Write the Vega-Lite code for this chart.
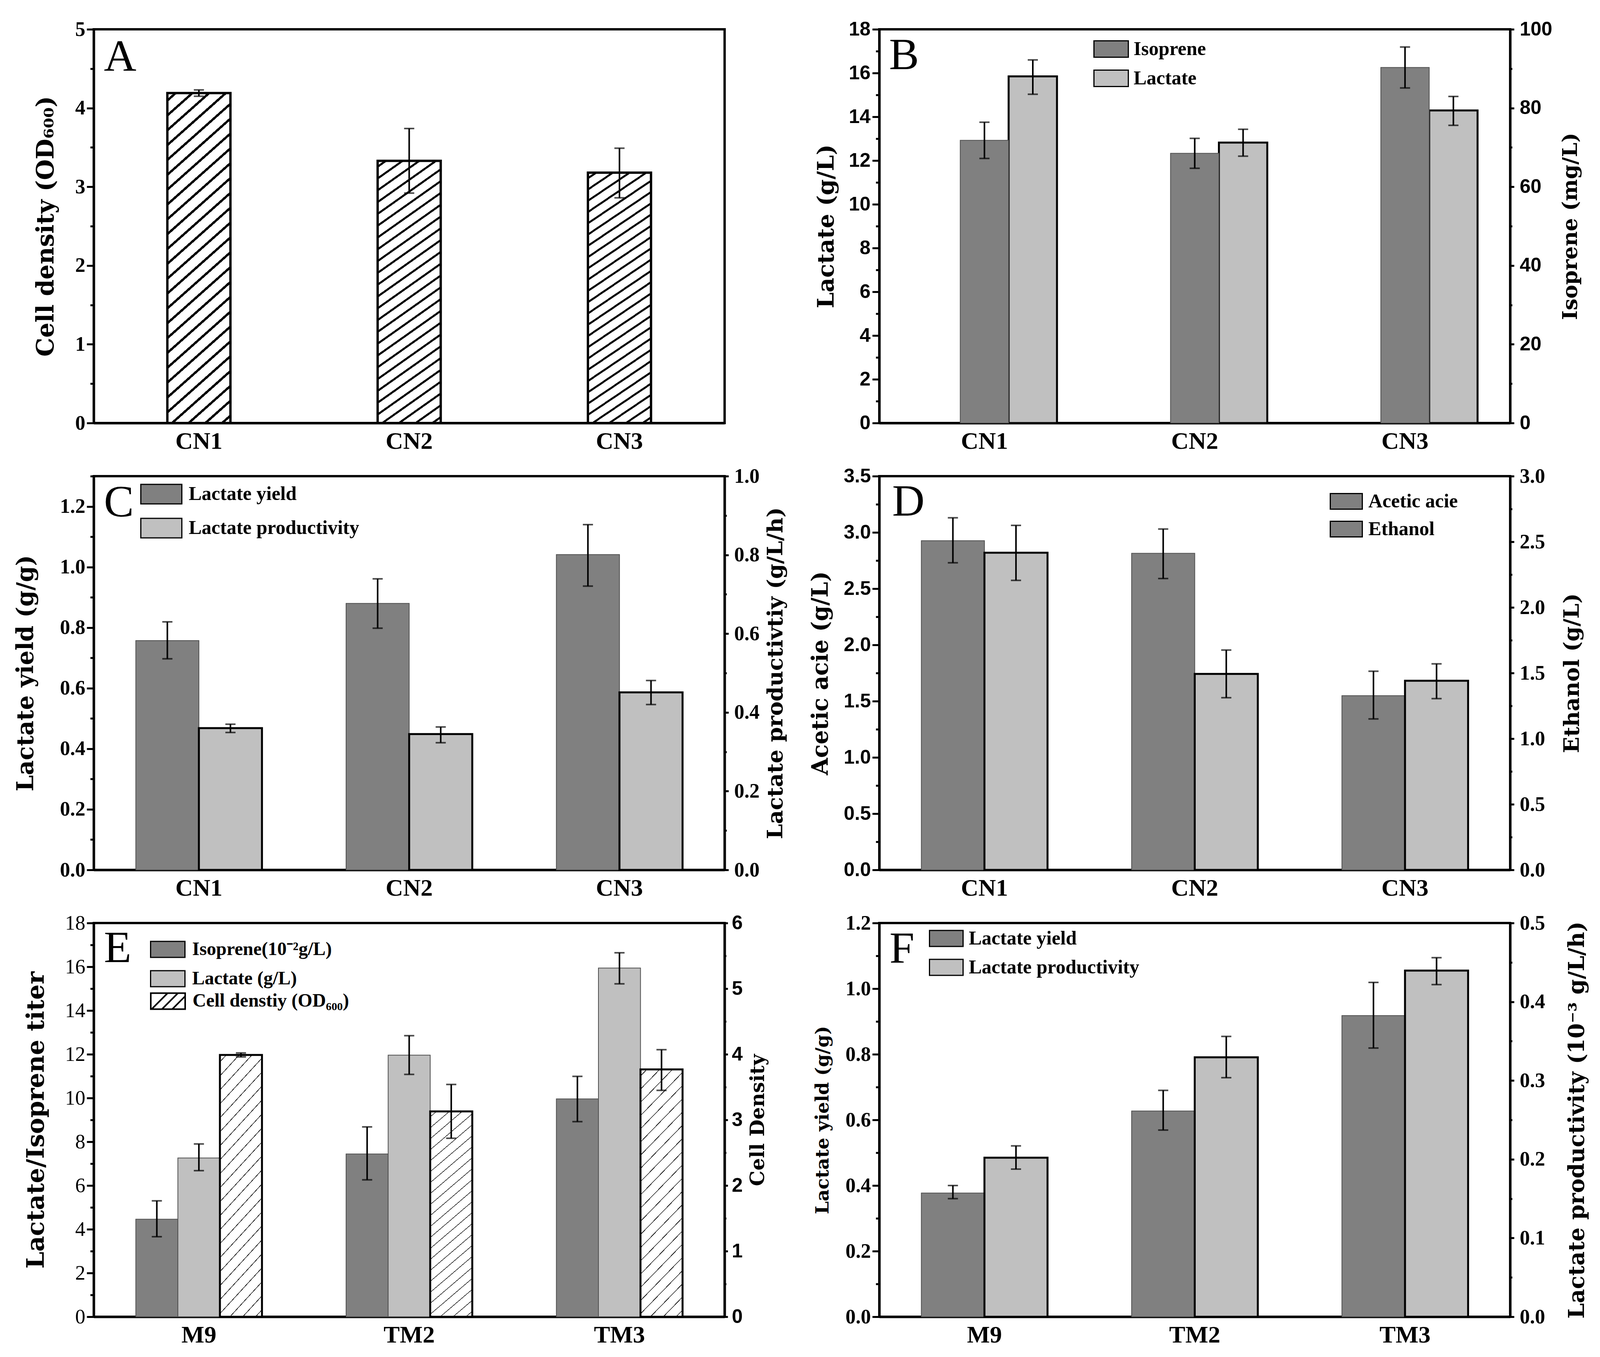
{
"$schema": "https://vega.github.io/schema/vega-lite/v6.json",
"padding": {"left": 33, "top": 46, "right": 0, "bottom": 0},
"background": "white",
"datasets": {
"A": [{"cat":"CN1","series":"Cell","v":4.19,"lo":4.15,"hi":4.23},{"cat":"CN2","series":"Cell","v":3.33,"lo":2.92,"hi":3.74},{"cat":"CN3","series":"Cell","v":3.18,"lo":2.86,"hi":3.49}],
"B": [{"cat":"CN1","series":"Isoprene","v":71.8,"lo":67.2,"hi":76.4},{"cat":"CN2","series":"Isoprene","v":68.5,"lo":64.7,"hi":72.3},{"cat":"CN3","series":"Isoprene","v":90.3,"lo":85.1,"hi":95.5},{"cat":"CN1","series":"Lactate","v":15.85,"lo":15.03,"hi":16.6},{"cat":"CN2","series":"Lactate","v":12.82,"lo":12.2,"hi":13.43},{"cat":"CN3","series":"Lactate","v":14.29,"lo":13.61,"hi":14.93}],
"C": [{"cat":"CN1","series":"Lactate yield","v":0.757,"lo":0.697,"hi":0.819},{"cat":"CN2","series":"Lactate yield","v":0.88,"lo":0.798,"hi":0.961},{"cat":"CN3","series":"Lactate yield","v":1.041,"lo":0.937,"hi":1.14},{"cat":"CN1","series":"Lactate productivity","v":0.36,"lo":0.349,"hi":0.37},{"cat":"CN2","series":"Lactate productivity","v":0.345,"lo":0.323,"hi":0.363},{"cat":"CN3","series":"Lactate productivity","v":0.451,"lo":0.42,"hi":0.481}],
"D": [{"cat":"CN1","series":"Acetic acie","v":2.926,"lo":2.73,"hi":3.13},{"cat":"CN2","series":"Acetic acie","v":2.814,"lo":2.59,"hi":3.03},{"cat":"CN3","series":"Acetic acie","v":1.549,"lo":1.342,"hi":1.766},{"cat":"CN1","series":"Ethanol","v":2.417,"lo":2.206,"hi":2.625},{"cat":"CN2","series":"Ethanol","v":1.493,"lo":1.312,"hi":1.675},{"cat":"CN3","series":"Ethanol","v":1.441,"lo":1.305,"hi":1.57}],
"E": [{"cat":"M9","series":"Isoprene(10⁻²g/L)","v":4.46,"lo":3.66,"hi":5.3},{"cat":"TM2","series":"Isoprene(10⁻²g/L)","v":7.44,"lo":6.26,"hi":8.68},{"cat":"TM3","series":"Isoprene(10⁻²g/L)","v":9.96,"lo":8.92,"hi":10.99},{"cat":"M9","series":"Lactate (g/L)","v":7.26,"lo":6.68,"hi":7.9},{"cat":"TM2","series":"Lactate (g/L)","v":11.96,"lo":11.08,"hi":12.85},{"cat":"TM3","series":"Lactate (g/L)","v":15.94,"lo":15.22,"hi":16.64},{"cat":"M9","series":"Cell denstiy (OD₆₀₀)","v":3.99,"lo":3.96,"hi":4.02},{"cat":"TM2","series":"Cell denstiy (OD₆₀₀)","v":3.13,"lo":2.72,"hi":3.54},{"cat":"TM3","series":"Cell denstiy (OD₆₀₀)","v":3.77,"lo":3.45,"hi":4.07}],
"F": [{"cat":"M9","series":"Lactate yield","v":0.377,"lo":0.36,"hi":0.4},{"cat":"TM2","series":"Lactate yield","v":0.627,"lo":0.569,"hi":0.69},{"cat":"TM3","series":"Lactate yield","v":0.918,"lo":0.819,"hi":1.019},{"cat":"M9","series":"Lactate productivity","v":0.202,"lo":0.1875,"hi":0.217},{"cat":"TM2","series":"Lactate productivity","v":0.3295,"lo":0.3036,"hi":0.356},{"cat":"TM3","series":"Lactate productivity","v":0.4396,"lo":0.4218,"hi":0.456}]
},
"columns": 2,
"bounds": "flush",
"spacing": {"row": 136, "column": 396},
"resolve": {"scale": {"x": "independent", "y": "independent", "color": "independent", "xOffset": "independent", "shape": "independent"}, "axis": {"x": "independent", "y": "independent"}, "legend": {"color": "independent", "shape": "independent"}},
"concat": [
{
 "width": 1615, "height": 1008,
 "title": {"text": "A", "dx": 26, "dy": 160},
 "data": {"name": "A"},
 "layer": [
  {"mark": {"type": "bar", "stroke": "#000", "strokeWidth": 6, "fill": {"gradient": "linear", "x1": 0, "y1": 0, "x2": 0.1933, "y2": 1.1371, "stops": [
{"offset":0,"color":"#fff"},
{"offset":0.0152,"color":"#fff"},{"offset":0.0152,"color":"#000"},{"offset":0.0232,"color":"#000"},{"offset":0.0232,"color":"#fff"},
{"offset":0.0537,"color":"#fff"},{"offset":0.0537,"color":"#000"},{"offset":0.0617,"color":"#000"},{"offset":0.0617,"color":"#fff"},
{"offset":0.0922,"color":"#fff"},{"offset":0.0922,"color":"#000"},{"offset":0.1002,"color":"#000"},{"offset":0.1002,"color":"#fff"},
{"offset":0.1306,"color":"#fff"},{"offset":0.1306,"color":"#000"},{"offset":0.1386,"color":"#000"},{"offset":0.1386,"color":"#fff"},
{"offset":0.1691,"color":"#fff"},{"offset":0.1691,"color":"#000"},{"offset":0.1771,"color":"#000"},{"offset":0.1771,"color":"#fff"},
{"offset":0.2075,"color":"#fff"},{"offset":0.2075,"color":"#000"},{"offset":0.2155,"color":"#000"},{"offset":0.2155,"color":"#fff"},
{"offset":0.246,"color":"#fff"},{"offset":0.246,"color":"#000"},{"offset":0.254,"color":"#000"},{"offset":0.254,"color":"#fff"},
{"offset":0.2845,"color":"#fff"},{"offset":0.2845,"color":"#000"},{"offset":0.2925,"color":"#000"},{"offset":0.2925,"color":"#fff"},
{"offset":0.3229,"color":"#fff"},{"offset":0.3229,"color":"#000"},{"offset":0.3309,"color":"#000"},{"offset":0.3309,"color":"#fff"},
{"offset":0.3614,"color":"#fff"},{"offset":0.3614,"color":"#000"},{"offset":0.3694,"color":"#000"},{"offset":0.3694,"color":"#fff"},
{"offset":0.3998,"color":"#fff"},{"offset":0.3998,"color":"#000"},{"offset":0.4078,"color":"#000"},{"offset":0.4078,"color":"#fff"},
{"offset":0.4383,"color":"#fff"},{"offset":0.4383,"color":"#000"},{"offset":0.4463,"color":"#000"},{"offset":0.4463,"color":"#fff"},
{"offset":0.4768,"color":"#fff"},{"offset":0.4768,"color":"#000"},{"offset":0.4848,"color":"#000"},{"offset":0.4848,"color":"#fff"},
{"offset":0.5152,"color":"#fff"},{"offset":0.5152,"color":"#000"},{"offset":0.5232,"color":"#000"},{"offset":0.5232,"color":"#fff"},
{"offset":0.5537,"color":"#fff"},{"offset":0.5537,"color":"#000"},{"offset":0.5617,"color":"#000"},{"offset":0.5617,"color":"#fff"},
{"offset":0.5922,"color":"#fff"},{"offset":0.5922,"color":"#000"},{"offset":0.6002,"color":"#000"},{"offset":0.6002,"color":"#fff"},
{"offset":0.6306,"color":"#fff"},{"offset":0.6306,"color":"#000"},{"offset":0.6386,"color":"#000"},{"offset":0.6386,"color":"#fff"},
{"offset":0.6691,"color":"#fff"},{"offset":0.6691,"color":"#000"},{"offset":0.6771,"color":"#000"},{"offset":0.6771,"color":"#fff"},
{"offset":0.7075,"color":"#fff"},{"offset":0.7075,"color":"#000"},{"offset":0.7155,"color":"#000"},{"offset":0.7155,"color":"#fff"},
{"offset":0.746,"color":"#fff"},{"offset":0.746,"color":"#000"},{"offset":0.754,"color":"#000"},{"offset":0.754,"color":"#fff"},
{"offset":0.7845,"color":"#fff"},{"offset":0.7845,"color":"#000"},{"offset":0.7925,"color":"#000"},{"offset":0.7925,"color":"#fff"},
{"offset":0.8229,"color":"#fff"},{"offset":0.8229,"color":"#000"},{"offset":0.8309,"color":"#000"},{"offset":0.8309,"color":"#fff"},
{"offset":0.8614,"color":"#fff"},{"offset":0.8614,"color":"#000"},{"offset":0.8694,"color":"#000"},{"offset":0.8694,"color":"#fff"},
{"offset":0.8998,"color":"#fff"},{"offset":0.8998,"color":"#000"},{"offset":0.9078,"color":"#000"},{"offset":0.9078,"color":"#fff"},
{"offset":0.9383,"color":"#fff"},{"offset":0.9383,"color":"#000"},{"offset":0.9463,"color":"#000"},{"offset":0.9463,"color":"#fff"},
{"offset":0.9768,"color":"#fff"},{"offset":0.9768,"color":"#000"},{"offset":0.9848,"color":"#000"},{"offset":0.9848,"color":"#fff"},
{"offset":1,"color":"#fff"}]}},
   "encoding": {"x": {"field": "cat", "type": "nominal", "title": null, "scale": {"paddingInner": 0.7, "paddingOuter": 0.35}},
    "y": {"field": "v", "type": "quantitative", "scale": {"domain": [0, 5], "nice": false},
     "axis": {"title": "Cell density (OD₆₀₀)", "orient": "left", "values": [0,0.5,1,1.5,2,2.5,3,3.5,4,4.5,5], "labelExpr": "datum.value % 1 === 0 ? format(datum.value,'d') : ''", "tickSize": 18, "tickDash": {"condition": {"test": "datum.value % 1 !== 0", "value": [9, 200]}, "value": [200, 1]}, "labelFont": "Liberation Serif", "labelFontSize": 52, "labelPadding": 4, "titleX": -122, "titleBaseline": "middle", "titleFontSize": 61}}}},
  {"mark": {"type": "rule", "color": "#000", "strokeWidth": 4},
   "encoding": {"x": {"field": "cat", "type": "nominal", "title": null, "scale": {"paddingInner": 0.7, "paddingOuter": 0.35}},
    "y": {"field": "lo", "type": "quantitative", "scale": {"domain": [0, 5], "nice": false}}, "y2": {"field": "hi"}}},
  {"mark": {"type": "tick", "color": "#000", "size": 26, "thickness": 4},
   "encoding": {"x": {"field": "cat", "type": "nominal", "title": null, "scale": {"paddingInner": 0.7, "paddingOuter": 0.35}},
    "y": {"field": "lo", "type": "quantitative", "scale": {"domain": [0, 5], "nice": false}}}},
  {"mark": {"type": "tick", "color": "#000", "size": 26, "thickness": 4},
   "encoding": {"x": {"field": "cat", "type": "nominal", "title": null, "scale": {"paddingInner": 0.7, "paddingOuter": 0.35}},
    "y": {"field": "hi", "type": "quantitative", "scale": {"domain": [0, 5], "nice": false}}}}
 ]
},
{
 "width": 1615, "height": 1008,
 "title": {"text": "B", "dx": 25, "dy": 155},
 "data": {"name": "B"},
 "resolve": {"scale": {"y": "independent"}},
 "layer": [
  {"transform": [{"filter": "datum.series === 'Lactate'"}],
   "layer": [
    {"mark": {"type": "bar", "stroke": "#000", "strokeWidth": 5},
     "encoding": {"x": {"field": "cat", "type": "nominal", "title": null, "scale": {"paddingInner": 0.31, "paddingOuter": 0.155}},
      "xOffset": {"field": "series", "type": "nominal", "scale": {"domain": ["_", "Isoprene", "Lactate"]}},
      "color": {"field": "series", "type": "nominal", "scale": {"domain": ["Isoprene", "Lactate"], "range": ["#808080", "#c0c0c0"]},
       "legend": {"title": null, "orient": "none", "legendX": 548, "legendY": 5, "symbolType": "M-1,-0.477H1V0.477H-1Z", "symbolSize": 7744, "labelOffset": 12}},
      "y": {"field": "v", "type": "quantitative", "scale": {"domain": [0, 18], "nice": false},
       "axis": {"title": "Lactate (g/L)", "orient": "left", "values": [0,1,2,3,4,5,6,7,8,9,10,11,12,13,14,15,16,17,18], "labelExpr": "datum.value % 2 === 0 ? format(datum.value,'d') : ''", "tickSize": 18, "tickDash": {"condition": {"test": "datum.value % 2 !== 0", "value": [9, 200]}, "value": [200, 1]}, "labelFont": "Liberation Sans", "labelFontSize": 50, "labelPadding": 5, "titleX": -135, "titleBaseline": "middle", "titleFontSize": 58}}}},
    {"mark": {"type": "rule", "color": "#000", "strokeWidth": 4},
     "encoding": {"x": {"field": "cat", "type": "nominal", "title": null, "scale": {"paddingInner": 0.31, "paddingOuter": 0.155}},
      "xOffset": {"field": "series", "type": "nominal", "scale": {"domain": ["_", "Isoprene", "Lactate"]}},
      "y": {"field": "lo", "type": "quantitative", "scale": {"domain": [0, 18], "nice": false}}, "y2": {"field": "hi"}}},
    {"mark": {"type": "tick", "color": "#000", "size": 26, "thickness": 4},
     "encoding": {"x": {"field": "cat", "type": "nominal", "title": null, "scale": {"paddingInner": 0.31, "paddingOuter": 0.155}},
      "xOffset": {"field": "series", "type": "nominal", "scale": {"domain": ["_", "Isoprene", "Lactate"]}},
      "y": {"field": "lo", "type": "quantitative", "scale": {"domain": [0, 18], "nice": false}}}},
    {"mark": {"type": "tick", "color": "#000", "size": 26, "thickness": 4},
     "encoding": {"x": {"field": "cat", "type": "nominal", "title": null, "scale": {"paddingInner": 0.31, "paddingOuter": 0.155}},
      "xOffset": {"field": "series", "type": "nominal", "scale": {"domain": ["_", "Isoprene", "Lactate"]}},
      "y": {"field": "hi", "type": "quantitative", "scale": {"domain": [0, 18], "nice": false}}}}
   ]},
  {"transform": [{"filter": "datum.series === 'Isoprene'"}],
   "layer": [
    {"mark": {"type": "bar", "stroke": "#505050", "strokeWidth": 2},
     "encoding": {"x": {"field": "cat", "type": "nominal", "title": null, "scale": {"paddingInner": 0.31, "paddingOuter": 0.155}},
      "xOffset": {"field": "series", "type": "nominal", "scale": {"domain": ["_", "Isoprene", "Lactate"]}},
      "color": {"field": "series", "type": "nominal", "scale": {"domain": ["Isoprene", "Lactate"], "range": ["#808080", "#c0c0c0"]},
       "legend": {"title": null, "orient": "none", "legendX": 548, "legendY": 5, "symbolType": "M-1,-0.477H1V0.477H-1Z", "symbolSize": 7744, "labelOffset": 12}},
      "y": {"field": "v", "type": "quantitative", "scale": {"domain": [0, 100], "nice": false},
       "axis": {"title": "Isoprene (mg/L)", "orient": "right", "values": [0,10,20,30,40,50,60,70,80,90,100], "labelExpr": "datum.value % 20 === 0 ? format(datum.value,'d') : ''", "tickSize": 10, "tickDash": {"condition": {"test": "datum.value % 20 !== 0", "value": [5, 200]}, "value": [200, 1]}, "labelFont": "Liberation Sans", "labelFontSize": 50, "labelPadding": 14, "titleX": 154, "titleAngle": 270, "titleBaseline": "middle", "titleFontSize": 53}}}},
    {"mark": {"type": "rule", "color": "#000", "strokeWidth": 4},
     "encoding": {"x": {"field": "cat", "type": "nominal", "title": null, "scale": {"paddingInner": 0.31, "paddingOuter": 0.155}},
      "xOffset": {"field": "series", "type": "nominal", "scale": {"domain": ["_", "Isoprene", "Lactate"]}},
      "y": {"field": "lo", "type": "quantitative", "scale": {"domain": [0, 100], "nice": false}}, "y2": {"field": "hi"}}},
    {"mark": {"type": "tick", "color": "#000", "size": 26, "thickness": 4},
     "encoding": {"x": {"field": "cat", "type": "nominal", "title": null, "scale": {"paddingInner": 0.31, "paddingOuter": 0.155}},
      "xOffset": {"field": "series", "type": "nominal", "scale": {"domain": ["_", "Isoprene", "Lactate"]}},
      "y": {"field": "lo", "type": "quantitative", "scale": {"domain": [0, 100], "nice": false}}}},
    {"mark": {"type": "tick", "color": "#000", "size": 26, "thickness": 4},
     "encoding": {"x": {"field": "cat", "type": "nominal", "title": null, "scale": {"paddingInner": 0.31, "paddingOuter": 0.155}},
      "xOffset": {"field": "series", "type": "nominal", "scale": {"domain": ["_", "Isoprene", "Lactate"]}},
      "y": {"field": "hi", "type": "quantitative", "scale": {"domain": [0, 100], "nice": false}}}}
   ]}
 ]
},
{
 "width": 1615, "height": 1008,
 "title": {"text": "C", "dx": 26, "dy": 157},
 "data": {"name": "C"},
 "resolve": {"scale": {"y": "independent"}},
 "layer": [
  {"transform": [{"filter": "datum.series === 'Lactate yield'"}],
   "layer": [
    {"mark": {"type": "bar", "stroke": "#505050", "strokeWidth": 2},
     "encoding": {"x": {"field": "cat", "type": "nominal", "title": null, "scale": {"paddingInner": 0.4, "paddingOuter": 0.2}},
      "xOffset": {"field": "series", "type": "nominal", "scale": {"domain": ["Lactate yield", "Lactate productivity"]}},
      "color": {"field": "series", "type": "nominal", "scale": {"domain": ["Lactate yield", "Lactate productivity"], "range": ["#808080", "#c0c0c0"]},
       "legend": {"title": null, "orient": "none", "legendX": 119, "legendY": -8, "symbolType": "M-1,-0.476H1V0.476H-1Z", "symbolSize": 11025, "labelOffset": 16}},
      "y": {"field": "v", "type": "quantitative", "scale": {"domain": [0, 1.3], "nice": false},
       "axis": {"title": "Lactate yield (g/g)", "orient": "left", "values": [0,0.1,0.2,0.3,0.4,0.5,0.6,0.7,0.8,0.9,1,1.1,1.2,1.3], "labelExpr": "abs(datum.value*5-round(datum.value*5)) < 0.01 ? format(datum.value,'.1f') : ''", "tickSize": 18, "tickDash": {"condition": {"test": "abs(datum.value*5-round(datum.value*5)) >= 0.01", "value": [9, 200]}, "value": [200, 1]}, "labelFont": "Liberation Serif", "labelFontSize": 52, "labelPadding": 4, "titleX": -174, "titleBaseline": "middle", "titleFontSize": 59}}}},
    {"mark": {"type": "rule", "color": "#000", "strokeWidth": 4},
     "encoding": {"x": {"field": "cat", "type": "nominal", "title": null, "scale": {"paddingInner": 0.4, "paddingOuter": 0.2}},
      "xOffset": {"field": "series", "type": "nominal", "scale": {"domain": ["Lactate yield", "Lactate productivity"]}},
      "y": {"field": "lo", "type": "quantitative", "scale": {"domain": [0, 1.3], "nice": false}}, "y2": {"field": "hi"}}},
    {"mark": {"type": "tick", "color": "#000", "size": 26, "thickness": 4},
     "encoding": {"x": {"field": "cat", "type": "nominal", "title": null, "scale": {"paddingInner": 0.4, "paddingOuter": 0.2}},
      "xOffset": {"field": "series", "type": "nominal", "scale": {"domain": ["Lactate yield", "Lactate productivity"]}},
      "y": {"field": "lo", "type": "quantitative", "scale": {"domain": [0, 1.3], "nice": false}}}},
    {"mark": {"type": "tick", "color": "#000", "size": 26, "thickness": 4},
     "encoding": {"x": {"field": "cat", "type": "nominal", "title": null, "scale": {"paddingInner": 0.4, "paddingOuter": 0.2}},
      "xOffset": {"field": "series", "type": "nominal", "scale": {"domain": ["Lactate yield", "Lactate productivity"]}},
      "y": {"field": "hi", "type": "quantitative", "scale": {"domain": [0, 1.3], "nice": false}}}}
   ]},
  {"transform": [{"filter": "datum.series === 'Lactate productivity'"}],
   "layer": [
    {"mark": {"type": "bar", "stroke": "#000", "strokeWidth": 5},
     "encoding": {"x": {"field": "cat", "type": "nominal", "title": null, "scale": {"paddingInner": 0.4, "paddingOuter": 0.2}},
      "xOffset": {"field": "series", "type": "nominal", "scale": {"domain": ["Lactate yield", "Lactate productivity"]}},
      "color": {"field": "series", "type": "nominal", "scale": {"domain": ["Lactate yield", "Lactate productivity"], "range": ["#808080", "#c0c0c0"]},
       "legend": {"title": null, "orient": "none", "legendX": 119, "legendY": -8, "symbolType": "M-1,-0.476H1V0.476H-1Z", "symbolSize": 11025, "labelOffset": 16}},
      "y": {"field": "v", "type": "quantitative", "scale": {"domain": [0, 1], "nice": false},
       "axis": {"title": "Lactate productivtiy (g/L/h)", "orient": "right", "values": [0,0.1,0.2,0.3,0.4,0.5,0.6,0.7,0.8,0.9,1], "labelExpr": "abs(datum.value*5-round(datum.value*5)) < 0.01 ? format(datum.value,'.1f') : ''", "tickSize": 10, "tickDash": {"condition": {"test": "abs(datum.value*5-round(datum.value*5)) >= 0.01", "value": [5, 200]}, "value": [200, 1]}, "labelFont": "Liberation Serif", "labelFontSize": 52, "labelPadding": 14, "titleX": 130, "titleAngle": 270, "titleBaseline": "middle", "titleFontSize": 55}}}},
    {"mark": {"type": "rule", "color": "#000", "strokeWidth": 4},
     "encoding": {"x": {"field": "cat", "type": "nominal", "title": null, "scale": {"paddingInner": 0.4, "paddingOuter": 0.2}},
      "xOffset": {"field": "series", "type": "nominal", "scale": {"domain": ["Lactate yield", "Lactate productivity"]}},
      "y": {"field": "lo", "type": "quantitative", "scale": {"domain": [0, 1], "nice": false}}, "y2": {"field": "hi"}}},
    {"mark": {"type": "tick", "color": "#000", "size": 26, "thickness": 4},
     "encoding": {"x": {"field": "cat", "type": "nominal", "title": null, "scale": {"paddingInner": 0.4, "paddingOuter": 0.2}},
      "xOffset": {"field": "series", "type": "nominal", "scale": {"domain": ["Lactate yield", "Lactate productivity"]}},
      "y": {"field": "lo", "type": "quantitative", "scale": {"domain": [0, 1], "nice": false}}}},
    {"mark": {"type": "tick", "color": "#000", "size": 26, "thickness": 4},
     "encoding": {"x": {"field": "cat", "type": "nominal", "title": null, "scale": {"paddingInner": 0.4, "paddingOuter": 0.2}},
      "xOffset": {"field": "series", "type": "nominal", "scale": {"domain": ["Lactate yield", "Lactate productivity"]}},
      "y": {"field": "hi", "type": "quantitative", "scale": {"domain": [0, 1], "nice": false}}}}
   ]}
 ]
},
{
 "width": 1615, "height": 1008,
 "title": {"text": "D", "dx": 33, "dy": 155},
 "data": {"name": "D"},
 "resolve": {"scale": {"y": "independent"}},
 "layer": [
  {"transform": [{"filter": "datum.series === 'Acetic acie'"}],
   "layer": [
    {"mark": {"type": "bar", "stroke": "#505050", "strokeWidth": 2},
     "encoding": {"x": {"field": "cat", "type": "nominal", "title": null, "scale": {"paddingInner": 0.4, "paddingOuter": 0.2}},
      "xOffset": {"field": "series", "type": "nominal", "scale": {"domain": ["Acetic acie", "Ethanol"]}},
      "color": {"field": "series", "type": "nominal", "scale": {"domain": ["Acetic acie", "Ethanol"], "range": ["#808080", "#808080"]},
       "legend": {"title": null, "orient": "none", "legendX": 1153, "legendY": 22, "symbolType": "M-1,-0.488H1V0.488H-1Z", "symbolSize": 6724, "labelOffset": 14}},
      "y": {"field": "v", "type": "quantitative", "scale": {"domain": [0, 3.5], "nice": false},
       "axis": {"title": "Acetic acie (g/L)", "orient": "left", "values": [0,0.25,0.5,0.75,1,1.25,1.5,1.75,2,2.25,2.5,2.75,3,3.25,3.5], "labelExpr": "abs(datum.value*2-round(datum.value*2)) < 0.01 ? format(datum.value,'.1f') : ''", "tickSize": 18, "tickDash": {"condition": {"test": "abs(datum.value*2-round(datum.value*2)) >= 0.01", "value": [9, 200]}, "value": [200, 1]}, "labelFont": "Liberation Sans", "labelFontSize": 50, "labelPadding": 4, "titleX": -150, "titleBaseline": "middle", "titleFontSize": 57}}}},
    {"mark": {"type": "rule", "color": "#000", "strokeWidth": 4},
     "encoding": {"x": {"field": "cat", "type": "nominal", "title": null, "scale": {"paddingInner": 0.4, "paddingOuter": 0.2}},
      "xOffset": {"field": "series", "type": "nominal", "scale": {"domain": ["Acetic acie", "Ethanol"]}},
      "y": {"field": "lo", "type": "quantitative", "scale": {"domain": [0, 3.5], "nice": false}}, "y2": {"field": "hi"}}},
    {"mark": {"type": "tick", "color": "#000", "size": 26, "thickness": 4},
     "encoding": {"x": {"field": "cat", "type": "nominal", "title": null, "scale": {"paddingInner": 0.4, "paddingOuter": 0.2}},
      "xOffset": {"field": "series", "type": "nominal", "scale": {"domain": ["Acetic acie", "Ethanol"]}},
      "y": {"field": "lo", "type": "quantitative", "scale": {"domain": [0, 3.5], "nice": false}}}},
    {"mark": {"type": "tick", "color": "#000", "size": 26, "thickness": 4},
     "encoding": {"x": {"field": "cat", "type": "nominal", "title": null, "scale": {"paddingInner": 0.4, "paddingOuter": 0.2}},
      "xOffset": {"field": "series", "type": "nominal", "scale": {"domain": ["Acetic acie", "Ethanol"]}},
      "y": {"field": "hi", "type": "quantitative", "scale": {"domain": [0, 3.5], "nice": false}}}}
   ]},
  {"transform": [{"filter": "datum.series === 'Ethanol'"}],
   "layer": [
    {"mark": {"type": "bar", "fill": "#c0c0c0", "stroke": "#000", "strokeWidth": 5},
     "encoding": {"x": {"field": "cat", "type": "nominal", "title": null, "scale": {"paddingInner": 0.4, "paddingOuter": 0.2}},
      "xOffset": {"field": "series", "type": "nominal", "scale": {"domain": ["Acetic acie", "Ethanol"]}},
      "y": {"field": "v", "type": "quantitative", "scale": {"domain": [0, 3], "nice": false},
       "axis": {"title": "Ethanol (g/L)", "orient": "right", "values": [0,0.25,0.5,0.75,1,1.25,1.5,1.75,2,2.25,2.5,2.75,3], "labelExpr": "abs(datum.value*2-round(datum.value*2)) < 0.01 ? format(datum.value,'.1f') : ''", "tickSize": 10, "tickDash": {"condition": {"test": "abs(datum.value*2-round(datum.value*2)) >= 0.01", "value": [5, 200]}, "value": [200, 1]}, "labelFont": "Liberation Serif", "labelFontSize": 52, "labelPadding": 14, "titleX": 158, "titleAngle": 270, "titleBaseline": "middle", "titleFontSize": 55}}}},
    {"mark": {"type": "rule", "color": "#000", "strokeWidth": 4},
     "encoding": {"x": {"field": "cat", "type": "nominal", "title": null, "scale": {"paddingInner": 0.4, "paddingOuter": 0.2}},
      "xOffset": {"field": "series", "type": "nominal", "scale": {"domain": ["Acetic acie", "Ethanol"]}},
      "y": {"field": "lo", "type": "quantitative", "scale": {"domain": [0, 3], "nice": false}}, "y2": {"field": "hi"}}},
    {"mark": {"type": "tick", "color": "#000", "size": 26, "thickness": 4},
     "encoding": {"x": {"field": "cat", "type": "nominal", "title": null, "scale": {"paddingInner": 0.4, "paddingOuter": 0.2}},
      "xOffset": {"field": "series", "type": "nominal", "scale": {"domain": ["Acetic acie", "Ethanol"]}},
      "y": {"field": "lo", "type": "quantitative", "scale": {"domain": [0, 3], "nice": false}}}},
    {"mark": {"type": "tick", "color": "#000", "size": 26, "thickness": 4},
     "encoding": {"x": {"field": "cat", "type": "nominal", "title": null, "scale": {"paddingInner": 0.4, "paddingOuter": 0.2}},
      "xOffset": {"field": "series", "type": "nominal", "scale": {"domain": ["Acetic acie", "Ethanol"]}},
      "y": {"field": "hi", "type": "quantitative", "scale": {"domain": [0, 3], "nice": false}}}}
   ]}
 ]
},
{
 "width": 1615, "height": 1008,
 "title": {"text": "E", "dx": 26, "dy": 154},
 "data": {"name": "E"},
 "resolve": {"scale": {"y": "independent"}},
 "layer": [
  {"transform": [{"filter": "datum.series !== 'Cell denstiy (OD₆₀₀)'"}],
   "layer": [
    {"mark": {"type": "bar", "stroke": "#505050", "strokeWidth": 2},
     "encoding": {"x": {"field": "cat", "type": "nominal", "title": null, "scale": {"paddingInner": 0.4, "paddingOuter": 0.2}},
      "xOffset": {"field": "series", "type": "nominal", "scale": {"domain": ["Isoprene(10⁻²g/L)", "Lactate (g/L)", "Cell denstiy (OD₆₀₀)"]}},
      "color": {"field": "series", "type": "nominal", "scale": {"domain": ["Isoprene(10⁻²g/L)", "Lactate (g/L)"], "range": ["#808080", "#c0c0c0"]},
       "legend": {"title": null, "orient": "none", "legendX": 144, "legendY": 22, "symbolType": "M-1,-0.466H1V0.466H-1Z", "symbolSize": 7744, "labelOffset": 17, "labelFontSize": 48}},
      "y": {"field": "v", "type": "quantitative", "scale": {"domain": [0, 18], "nice": false},
       "axis": {"title": "Lactate/Isoprene titer", "orient": "left", "values": [0,1,2,3,4,5,6,7,8,9,10,11,12,13,14,15,16,17,18], "labelExpr": "datum.value % 2 === 0 ? format(datum.value,'d') : ''", "tickSize": 18, "tickDash": {"condition": {"test": "datum.value % 2 !== 0", "value": [9, 200]}, "value": [200, 1]}, "labelFont": "Liberation Serif", "labelFontWeight": "normal", "labelFontSize": 52, "labelPadding": 4, "titleX": -148, "titleBaseline": "middle", "titleFontSize": 62}}}},
    {"mark": {"type": "rule", "color": "#000", "strokeWidth": 4},
     "encoding": {"x": {"field": "cat", "type": "nominal", "title": null, "scale": {"paddingInner": 0.4, "paddingOuter": 0.2}},
      "xOffset": {"field": "series", "type": "nominal", "scale": {"domain": ["Isoprene(10⁻²g/L)", "Lactate (g/L)", "Cell denstiy (OD₆₀₀)"]}},
      "y": {"field": "lo", "type": "quantitative", "scale": {"domain": [0, 18], "nice": false}}, "y2": {"field": "hi"}}},
    {"mark": {"type": "tick", "color": "#000", "size": 26, "thickness": 4},
     "encoding": {"x": {"field": "cat", "type": "nominal", "title": null, "scale": {"paddingInner": 0.4, "paddingOuter": 0.2}},
      "xOffset": {"field": "series", "type": "nominal", "scale": {"domain": ["Isoprene(10⁻²g/L)", "Lactate (g/L)", "Cell denstiy (OD₆₀₀)"]}},
      "y": {"field": "lo", "type": "quantitative", "scale": {"domain": [0, 18], "nice": false}}}},
    {"mark": {"type": "tick", "color": "#000", "size": 26, "thickness": 4},
     "encoding": {"x": {"field": "cat", "type": "nominal", "title": null, "scale": {"paddingInner": 0.4, "paddingOuter": 0.2}},
      "xOffset": {"field": "series", "type": "nominal", "scale": {"domain": ["Isoprene(10⁻²g/L)", "Lactate (g/L)", "Cell denstiy (OD₆₀₀)"]}},
      "y": {"field": "hi", "type": "quantitative", "scale": {"domain": [0, 18], "nice": false}}}}
   ]},
  {"transform": [{"filter": "datum.series === 'Cell denstiy (OD₆₀₀)'"}],
   "layer": [
    {"mark": {"type": "point", "filled": false, "stroke": "#000", "strokeWidth": 3, "size": 20},
     "encoding": {"x": {"field": "cat", "type": "nominal", "title": null, "scale": {"paddingInner": 0.4, "paddingOuter": 0.2}},
      "xOffset": {"field": "series", "type": "nominal", "scale": {"domain": ["Isoprene(10⁻²g/L)", "Lactate (g/L)", "Cell denstiy (OD₆₀₀)"]}},
      "shape": {"field": "series", "type": "nominal", "scale": {"domain": ["Cell denstiy (OD₆₀₀)"], "range": ["M-1,-0.466H1V0.466H-1Z M-0.95,0.466L-0.02,-0.466 M-0.35,0.466L0.58,-0.466 M0.25,0.466L1,-0.286"]},
       "legend": {"title": null, "orient": "none", "legendX": 144, "legendY": 154, "symbolSize": 7744, "symbolStrokeColor": "#000", "symbolStrokeWidth": 4, "symbolFillColor": "#fff", "symbolOpacity": 1, "labelOffset": 17, "labelFontSize": 48}},
      "y": {"field": "lo", "type": "quantitative", "scale": {"domain": [0, 6], "nice": false}}}},
    {"mark": {"type": "bar", "stroke": "#000", "strokeWidth": 5, "fill": {"gradient": "linear", "x1": 0, "y1": 0, "x2": 0.1995, "y2": 1.1401, "stops": [
{"offset":0,"color":"#fff"},
{"offset":0.0211,"color":"#fff"},{"offset":0.0211,"color":"#222"},{"offset":0.0243,"color":"#222"},{"offset":0.0243,"color":"#fff"},
{"offset":0.0666,"color":"#fff"},{"offset":0.0666,"color":"#222"},{"offset":0.0698,"color":"#222"},{"offset":0.0698,"color":"#fff"},
{"offset":0.112,"color":"#fff"},{"offset":0.112,"color":"#222"},{"offset":0.1152,"color":"#222"},{"offset":0.1152,"color":"#fff"},
{"offset":0.1575,"color":"#fff"},{"offset":0.1575,"color":"#222"},{"offset":0.1607,"color":"#222"},{"offset":0.1607,"color":"#fff"},
{"offset":0.2029,"color":"#fff"},{"offset":0.2029,"color":"#222"},{"offset":0.2061,"color":"#222"},{"offset":0.2061,"color":"#fff"},
{"offset":0.2484,"color":"#fff"},{"offset":0.2484,"color":"#222"},{"offset":0.2516,"color":"#222"},{"offset":0.2516,"color":"#fff"},
{"offset":0.2939,"color":"#fff"},{"offset":0.2939,"color":"#222"},{"offset":0.2971,"color":"#222"},{"offset":0.2971,"color":"#fff"},
{"offset":0.3393,"color":"#fff"},{"offset":0.3393,"color":"#222"},{"offset":0.3425,"color":"#222"},{"offset":0.3425,"color":"#fff"},
{"offset":0.3848,"color":"#fff"},{"offset":0.3848,"color":"#222"},{"offset":0.388,"color":"#222"},{"offset":0.388,"color":"#fff"},
{"offset":0.4302,"color":"#fff"},{"offset":0.4302,"color":"#222"},{"offset":0.4334,"color":"#222"},{"offset":0.4334,"color":"#fff"},
{"offset":0.4757,"color":"#fff"},{"offset":0.4757,"color":"#222"},{"offset":0.4789,"color":"#222"},{"offset":0.4789,"color":"#fff"},
{"offset":0.5211,"color":"#fff"},{"offset":0.5211,"color":"#222"},{"offset":0.5243,"color":"#222"},{"offset":0.5243,"color":"#fff"},
{"offset":0.5666,"color":"#fff"},{"offset":0.5666,"color":"#222"},{"offset":0.5698,"color":"#222"},{"offset":0.5698,"color":"#fff"},
{"offset":0.612,"color":"#fff"},{"offset":0.612,"color":"#222"},{"offset":0.6152,"color":"#222"},{"offset":0.6152,"color":"#fff"},
{"offset":0.6575,"color":"#fff"},{"offset":0.6575,"color":"#222"},{"offset":0.6607,"color":"#222"},{"offset":0.6607,"color":"#fff"},
{"offset":0.7029,"color":"#fff"},{"offset":0.7029,"color":"#222"},{"offset":0.7061,"color":"#222"},{"offset":0.7061,"color":"#fff"},
{"offset":0.7484,"color":"#fff"},{"offset":0.7484,"color":"#222"},{"offset":0.7516,"color":"#222"},{"offset":0.7516,"color":"#fff"},
{"offset":0.7939,"color":"#fff"},{"offset":0.7939,"color":"#222"},{"offset":0.7971,"color":"#222"},{"offset":0.7971,"color":"#fff"},
{"offset":0.8393,"color":"#fff"},{"offset":0.8393,"color":"#222"},{"offset":0.8425,"color":"#222"},{"offset":0.8425,"color":"#fff"},
{"offset":0.8848,"color":"#fff"},{"offset":0.8848,"color":"#222"},{"offset":0.888,"color":"#222"},{"offset":0.888,"color":"#fff"},
{"offset":0.9302,"color":"#fff"},{"offset":0.9302,"color":"#222"},{"offset":0.9334,"color":"#222"},{"offset":0.9334,"color":"#fff"},
{"offset":0.9757,"color":"#fff"},{"offset":0.9757,"color":"#222"},{"offset":0.9789,"color":"#222"},{"offset":0.9789,"color":"#fff"},
{"offset":1,"color":"#fff"}]}},
     "encoding": {"x": {"field": "cat", "type": "nominal", "title": null, "scale": {"paddingInner": 0.4, "paddingOuter": 0.2}},
      "xOffset": {"field": "series", "type": "nominal", "scale": {"domain": ["Isoprene(10⁻²g/L)", "Lactate (g/L)", "Cell denstiy (OD₆₀₀)"]}},
      "y": {"field": "v", "type": "quantitative", "scale": {"domain": [0, 6], "nice": false},
       "axis": {"title": "Cell Density", "orient": "right", "values": [0,0.5,1,1.5,2,2.5,3,3.5,4,4.5,5,5.5,6], "labelExpr": "datum.value % 1 === 0 ? format(datum.value,'d') : ''", "tickSize": 8, "tickDash": {"condition": {"test": "datum.value % 1 !== 0", "value": [4, 200]}, "value": [200, 1]}, "labelFont": "Liberation Sans", "labelFontSize": 50, "labelPadding": 10, "titleX": 85, "titleAngle": 270, "titleBaseline": "middle", "titleFontSize": 50}}}},
    {"mark": {"type": "rule", "color": "#000", "strokeWidth": 4},
     "encoding": {"x": {"field": "cat", "type": "nominal", "title": null, "scale": {"paddingInner": 0.4, "paddingOuter": 0.2}},
      "xOffset": {"field": "series", "type": "nominal", "scale": {"domain": ["Isoprene(10⁻²g/L)", "Lactate (g/L)", "Cell denstiy (OD₆₀₀)"]}},
      "y": {"field": "lo", "type": "quantitative", "scale": {"domain": [0, 6], "nice": false}}, "y2": {"field": "hi"}}},
    {"mark": {"type": "tick", "color": "#000", "size": 26, "thickness": 4},
     "encoding": {"x": {"field": "cat", "type": "nominal", "title": null, "scale": {"paddingInner": 0.4, "paddingOuter": 0.2}},
      "xOffset": {"field": "series", "type": "nominal", "scale": {"domain": ["Isoprene(10⁻²g/L)", "Lactate (g/L)", "Cell denstiy (OD₆₀₀)"]}},
      "y": {"field": "lo", "type": "quantitative", "scale": {"domain": [0, 6], "nice": false}}}},
    {"mark": {"type": "tick", "color": "#000", "size": 26, "thickness": 4},
     "encoding": {"x": {"field": "cat", "type": "nominal", "title": null, "scale": {"paddingInner": 0.4, "paddingOuter": 0.2}},
      "xOffset": {"field": "series", "type": "nominal", "scale": {"domain": ["Isoprene(10⁻²g/L)", "Lactate (g/L)", "Cell denstiy (OD₆₀₀)"]}},
      "y": {"field": "hi", "type": "quantitative", "scale": {"domain": [0, 6], "nice": false}}}}
   ]}
 ]
},
{
 "width": 1615, "height": 1008,
 "title": {"text": "F", "dx": 26, "dy": 156},
 "data": {"name": "F"},
 "resolve": {"scale": {"y": "independent"}},
 "layer": [
  {"transform": [{"filter": "datum.series === 'Lactate yield'"}],
   "layer": [
    {"mark": {"type": "bar", "stroke": "#505050", "strokeWidth": 2},
     "encoding": {"x": {"field": "cat", "type": "nominal", "title": null, "scale": {"paddingInner": 0.4, "paddingOuter": 0.2}},
      "xOffset": {"field": "series", "type": "nominal", "scale": {"domain": ["Lactate yield", "Lactate productivity"]}},
      "color": {"field": "series", "type": "nominal", "scale": {"domain": ["Lactate yield", "Lactate productivity"], "range": ["#808080", "#c0c0c0"]},
       "legend": {"title": null, "orient": "none", "legendX": 127, "legendY": -5, "symbolType": "M-1,-0.477H1V0.477H-1Z", "symbolSize": 7396, "labelOffset": 13}},
      "y": {"field": "v", "type": "quantitative", "scale": {"domain": [0, 1.2], "nice": false},
       "axis": {"title": "Lactate yield (g/g)", "orient": "left", "values": [0,0.1,0.2,0.3,0.4,0.5,0.6,0.7,0.8,0.9,1,1.1,1.2], "labelExpr": "abs(datum.value*5-round(datum.value*5)) < 0.01 ? format(datum.value,'.1f') : ''", "tickSize": 18, "tickDash": {"condition": {"test": "abs(datum.value*5-round(datum.value*5)) >= 0.01", "value": [9, 200]}, "value": [200, 1]}, "labelFont": "Liberation Serif", "labelFontSize": 52, "labelPadding": 4, "titleX": -145, "titleBaseline": "middle", "titleFontSize": 47}}}},
    {"mark": {"type": "rule", "color": "#000", "strokeWidth": 4},
     "encoding": {"x": {"field": "cat", "type": "nominal", "title": null, "scale": {"paddingInner": 0.4, "paddingOuter": 0.2}},
      "xOffset": {"field": "series", "type": "nominal", "scale": {"domain": ["Lactate yield", "Lactate productivity"]}},
      "y": {"field": "lo", "type": "quantitative", "scale": {"domain": [0, 1.2], "nice": false}}, "y2": {"field": "hi"}}},
    {"mark": {"type": "tick", "color": "#000", "size": 26, "thickness": 4},
     "encoding": {"x": {"field": "cat", "type": "nominal", "title": null, "scale": {"paddingInner": 0.4, "paddingOuter": 0.2}},
      "xOffset": {"field": "series", "type": "nominal", "scale": {"domain": ["Lactate yield", "Lactate productivity"]}},
      "y": {"field": "lo", "type": "quantitative", "scale": {"domain": [0, 1.2], "nice": false}}}},
    {"mark": {"type": "tick", "color": "#000", "size": 26, "thickness": 4},
     "encoding": {"x": {"field": "cat", "type": "nominal", "title": null, "scale": {"paddingInner": 0.4, "paddingOuter": 0.2}},
      "xOffset": {"field": "series", "type": "nominal", "scale": {"domain": ["Lactate yield", "Lactate productivity"]}},
      "y": {"field": "hi", "type": "quantitative", "scale": {"domain": [0, 1.2], "nice": false}}}}
   ]},
  {"transform": [{"filter": "datum.series === 'Lactate productivity'"}],
   "layer": [
    {"mark": {"type": "bar", "stroke": "#000", "strokeWidth": 5},
     "encoding": {"x": {"field": "cat", "type": "nominal", "title": null, "scale": {"paddingInner": 0.4, "paddingOuter": 0.2}},
      "xOffset": {"field": "series", "type": "nominal", "scale": {"domain": ["Lactate yield", "Lactate productivity"]}},
      "color": {"field": "series", "type": "nominal", "scale": {"domain": ["Lactate yield", "Lactate productivity"], "range": ["#808080", "#c0c0c0"]},
       "legend": {"title": null, "orient": "none", "legendX": 127, "legendY": -5, "symbolType": "M-1,-0.477H1V0.477H-1Z", "symbolSize": 7396, "labelOffset": 13}},
      "y": {"field": "v", "type": "quantitative", "scale": {"domain": [0, 0.5], "nice": false},
       "axis": {"title": "Lactate productivity (10⁻³ g/L/h)", "orient": "right", "values": [0,0.05,0.1,0.15,0.2,0.25,0.3,0.35,0.4,0.45,0.5], "labelExpr": "abs(datum.value*10-round(datum.value*10)) < 0.01 ? format(datum.value,'.1f') : ''", "tickSize": 10, "tickDash": {"condition": {"test": "abs(datum.value*10-round(datum.value*10)) >= 0.01", "value": [5, 200]}, "value": [200, 1]}, "labelFont": "Liberation Serif", "labelFontSize": 52, "labelPadding": 14, "titleX": 171, "titleAngle": 270, "titleBaseline": "middle", "titleFontSize": 56}}}},
    {"mark": {"type": "rule", "color": "#000", "strokeWidth": 4},
     "encoding": {"x": {"field": "cat", "type": "nominal", "title": null, "scale": {"paddingInner": 0.4, "paddingOuter": 0.2}},
      "xOffset": {"field": "series", "type": "nominal", "scale": {"domain": ["Lactate yield", "Lactate productivity"]}},
      "y": {"field": "lo", "type": "quantitative", "scale": {"domain": [0, 0.5], "nice": false}}, "y2": {"field": "hi"}}},
    {"mark": {"type": "tick", "color": "#000", "size": 26, "thickness": 4},
     "encoding": {"x": {"field": "cat", "type": "nominal", "title": null, "scale": {"paddingInner": 0.4, "paddingOuter": 0.2}},
      "xOffset": {"field": "series", "type": "nominal", "scale": {"domain": ["Lactate yield", "Lactate productivity"]}},
      "y": {"field": "lo", "type": "quantitative", "scale": {"domain": [0, 0.5], "nice": false}}}},
    {"mark": {"type": "tick", "color": "#000", "size": 26, "thickness": 4},
     "encoding": {"x": {"field": "cat", "type": "nominal", "title": null, "scale": {"paddingInner": 0.4, "paddingOuter": 0.2}},
      "xOffset": {"field": "series", "type": "nominal", "scale": {"domain": ["Lactate yield", "Lactate productivity"]}},
      "y": {"field": "hi", "type": "quantitative", "scale": {"domain": [0, 0.5], "nice": false}}}}
   ]}
 ]
}
],
"config": {
 "view": {"stroke": "#000", "strokeWidth": 6},
 "axis": {"grid": false, "domainColor": "#000", "domainWidth": 6, "tickColor": "#000", "tickWidth": 5, "labelColor": "#000", "titleColor": "#000", "labelFontWeight": "bold", "titleFont": "DejaVu Serif", "titleFontWeight": "bold", "labelOverlap": false, "titleBaseline": "middle"},
 "axisX": {"ticks": false, "labelFont": "Liberation Serif", "labelFontSize": 62, "labelPadding": 16, "labelAngle": 0},
 "legend": {"labelFont": "Liberation Serif", "labelFontSize": 50, "labelFontWeight": "bold", "labelColor": "#000", "labelLimit": 2000, "symbolStrokeColor": "#000", "symbolStrokeWidth": 3},
 "title": {"anchor": "start", "frame": "group", "offset": 0, "font": "Liberation Serif", "fontWeight": "normal", "fontSize": 115, "color": "#000", "baseline": "alphabetic"}
}
}
